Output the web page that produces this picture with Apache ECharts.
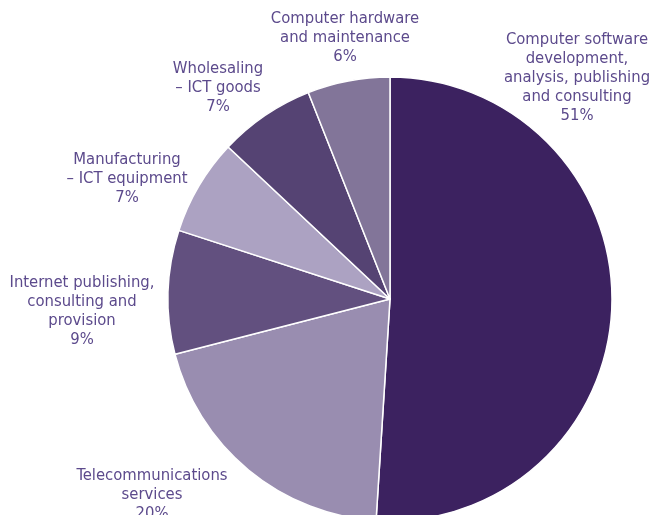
<!DOCTYPE html>
<html><head><meta charset="utf-8">
<script src="https://cdn.jsdelivr.net/npm/echarts@6/dist/echarts.min.js"></script>
<style>html,body{margin:0;padding:0;background:#fff}#c{width:652px;height:515px}</style>
</head><body><div id="c"></div>
<script>
const categories = [
  "Computer software\ndevelopment,\nanalysis, publishing\nand consulting",
  "Telecommunications\nservices",
  "Internet publishing,\nconsulting and\nprovision",
  "Manufacturing\n– ICT equipment",
  "Wholesaling\n– ICT goods",
  "Computer hardware\nand maintenance"
];
const values = [51, 20, 9, 7, 7, 6];
const colors = ["#3c2260", "#998db0", "#62507f", "#aca2c2", "#554373", "#827599"];
const labelPos = [[577, 78], [152, 495], [82, 311], [127, 179], [218, 88], [345, 38]];

const chart = echarts.init(document.getElementById('c'), null, {renderer: 'canvas'});
chart.setOption({
  animation: false,
  series: [{
    type: 'pie',
    center: [390, 299],
    radius: 222,
    startAngle: 90,
    clockwise: true,
    avoidLabelOverlap: false,
    data: categories.map((c, i) => ({name: c, value: values[i], itemStyle: {color: colors[i]}})),
    itemStyle: {borderColor: '#fff', borderWidth: 1.5},
    label: {
      show: true,
      position: 'inside',
      formatter: p => p.name + '\n' + p.value + '%',
      color: '#5c4a8c',
      fontFamily: '"Liberation Sans Narrow", "DejaVu Sans Condensed", sans-serif',
      fontSize: 16.5,
      lineHeight: 19,
      align: 'center',
      overflow: 'none'
    },
    labelLine: {show: false},
    labelLayout: p => ({x: labelPos[p.dataIndex][0], y: labelPos[p.dataIndex][1], align: 'center', verticalAlign: 'middle'}),
    emphasis: {disabled: true}
  }]
});
</script></body></html>
